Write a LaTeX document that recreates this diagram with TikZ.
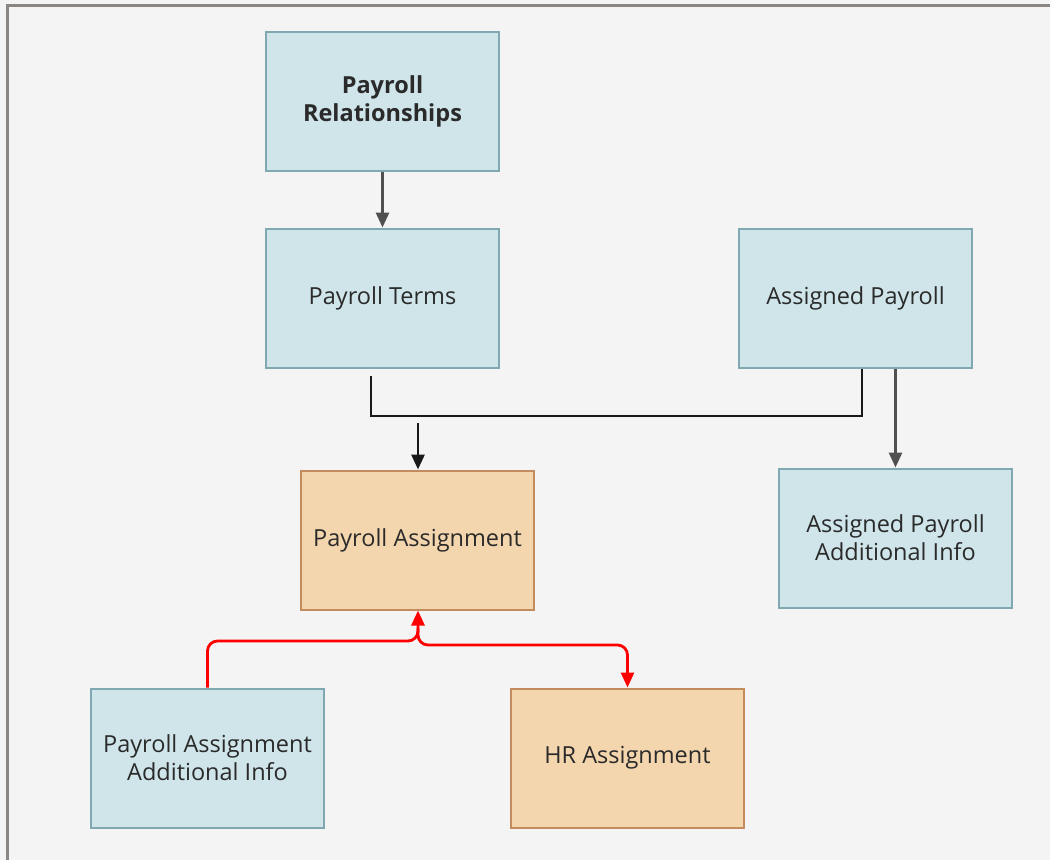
\documentclass[tikz,border=0pt]{standalone}
\usepackage{fontspec}
\setmainfont{Open Sans}
\usetikzlibrary{arrows.meta}
\definecolor{bgc}{HTML}{F4F4F4}
\definecolor{framec}{HTML}{8A8684}
\definecolor{bluef}{HTML}{CFE5EA}
\definecolor{blued}{HTML}{7FA8B0}
\definecolor{orangef}{HTML}{F4D6AE}
\definecolor{oranged}{HTML}{C48C5C}
\definecolor{txtc}{HTML}{2A2A2A}
\definecolor{grayarrow}{HTML}{505050}
\definecolor{redc}{HTML}{FF0000}
\tikzset{
  bluebox/.style={draw=blued, line width=2pt, fill=bluef, minimum width=233pt, minimum height=139pt, align=center, text=txtc, font=\fontsize{23.5}{28}\selectfont, inner sep=0pt},
  orangebox/.style={bluebox, draw=oranged, fill=orangef},
  tip/.style={-{Triangle[length=15pt,width=13pt]}},
  grayconn/.style={draw=grayarrow, line width=2.8pt, tip},
  blackconn/.style={draw=black!90, line width=2.8pt},
  blackarrow/.style={blackconn, tip},
  redconn/.style={draw=redc, line width=2.8pt, rounded corners=10pt}
}
\begin{document}
\begin{tikzpicture}[x=1pt,y=-1pt]
\fill[bgc] (0,0) rectangle (1050,860);
\useasboundingbox (0,0) rectangle (1050,860);
\draw[framec, line width=2.5pt] (7.5,860) -- (7.5,5.5) -- (1050,5.5);

\node[bluebox] (pr) at (382.5,101.5) {\textbf{Payroll}\\\textbf{Relationships}};
\node[bluebox] (pt) at (382.5,298) {Payroll Terms};
\node[bluebox] (ap) at (855.5,298) {Assigned Payroll};
\node[orangebox] (pa) at (417.5,540) {Payroll Assignment};
\node[bluebox] (apai) at (895.5,538) {Assigned Payroll\\Additional Info};
\node[bluebox] (paai) at (207.5,758) {Payroll Assignment\\Additional Info};
\node[orangebox] (hr) at (627.5,758) {HR Assignment};

\coordinate (jl) at (371,416);
\coordinate (jr) at (862,416);
\coordinate (ja) at (418,423);
\coordinate (rj) at (418,641);
\coordinate (rs) at (418,628);

\draw[grayconn] (pr.south) -- (pt.north);
\draw[blackconn] (pt.south -| jl) ++(0,7) -- (jl) -- (jr) -- (ap.south -| jr);
\draw[blackarrow] (ja) -- (ja |- pa.north);
\draw[grayconn] (ap.south -| apai.north) -- (apai.north);

\draw[redconn, tip] (paai.north) |- (rj) -- (rj |- pa.south);
\draw[redconn, tip] (rs) |- (hr.north |- 0,645) -- (hr.north);
\end{tikzpicture}
\end{document}
